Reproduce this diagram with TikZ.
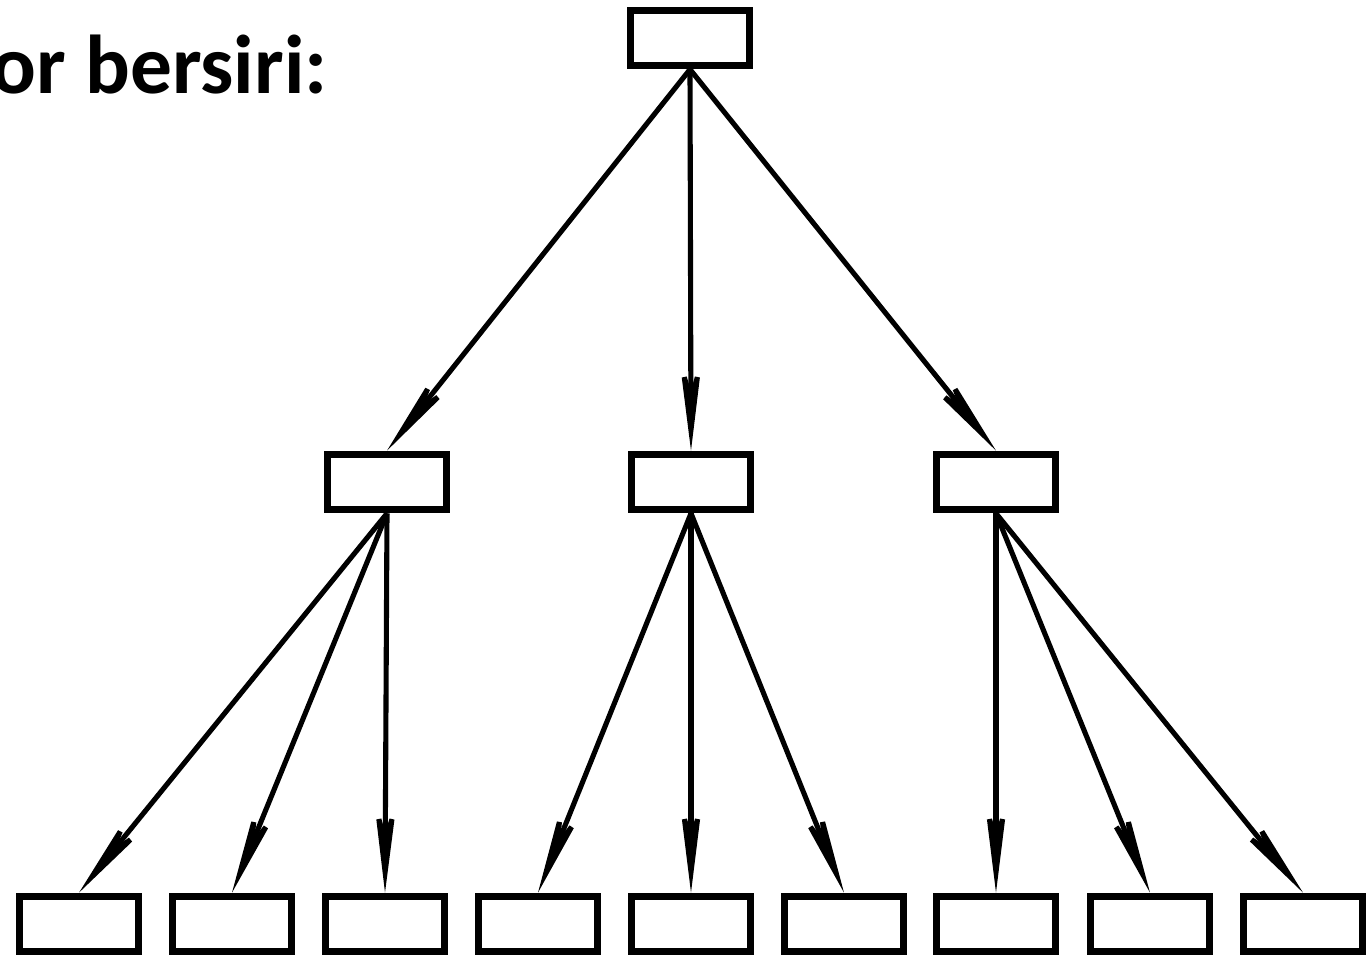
\documentclass[tikz,border=0pt]{standalone}
\usepackage{fontspec}
\setmainfont{Carlito}
\usetikzlibrary{arrows.meta}
\begin{document}
\begin{tikzpicture}[x=0.02cm,y=-0.02cm,->,>={Stealth[length=2.1cm,width=0.52cm,inset=0.9cm]}]
		\tikzstyle{box}=[draw,line width=4.4pt,minimum width=2.38cm,minimum height=1.1cm,inner sep=0pt]
		\tikzstyle{link}=[line width=2.9pt]
		\useasboundingbox (0,0) rectangle (1367,958);

		\node[anchor=base east,inner sep=0pt,font=\fontsize{47.5}{52}\selectfont\bfseries](title) at (328,93){or bersiri:};

		\node[box](top) at (690,38){};
		\node[box](m1) at (387,482){};
		\node[box](m2) at (691,482){};
		\node[box](m3) at (996,482){};
		\foreach \i/\x in {1/79,2/232,3/385,4/538,5/691,6/844,7/996,8/1150,9/1303}
			\node[box](b\i) at (\x,924){};

		\draw[link] (top.south) -- (m1.north);
		\draw[link] (top.south) -- (m2.north);
		\draw[link] (top.south) -- (m3.north);
		\draw[link] (m1.south) -- (b1.north);
		\draw[link] (m1.south) -- (b2.north);
		\draw[link] (m1.south) -- (b3.north);
		\draw[link] (m2.south) -- (b4.north);
		\draw[link] (m2.south) -- (b5.north);
		\draw[link] (m2.south) -- (b6.north);
		\draw[link] (m3.south) -- (b7.north);
		\draw[link] (m3.south) -- (b8.north);
		\draw[link] (m3.south) -- (b9.north);
	\end{tikzpicture}
\end{document}
